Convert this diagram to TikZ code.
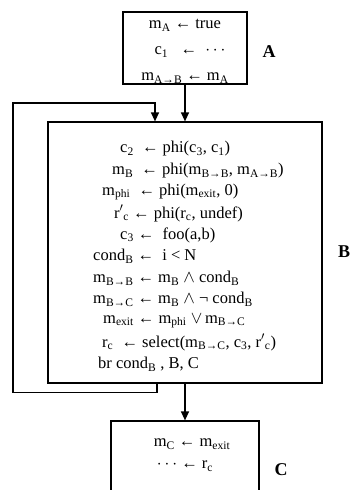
\documentclass[tikz,border=0pt]{standalone}
\usepackage{fontspec}
\setmainfont{Liberation Serif}
\usetikzlibrary{arrows.meta}
\newcommand\sbx[1]{\textsubscript{#1}}
\begin{document}
\begin{tikzpicture}[x=1pt,y=-1pt,
  font=\fontsize{16.5}{18}\selectfont,
  box/.style={draw,line width=1.2pt,inner sep=0pt},
  ln/.style={anchor=west,inner sep=0pt},
  lc/.style={anchor=center,inner sep=0pt,text depth=2pt},
  conn/.style={line width=1.2pt,-{Triangle[length=9pt,width=8pt]}},
  lbl/.style={font=\fontsize{18}{20}\selectfont\bfseries,inner sep=0pt}]
\useasboundingbox (0,0) rectangle (353,490);
% blocks
\node[box,minimum width=124pt,minimum height=72pt] (A) at (185,48) {};
\node[box,minimum width=274pt,minimum height=261pt] (B) at (185,252.5) {};
\node[box,minimum width=148pt,minimum height=80pt] (C) at (185,461) {};
% labels
\node[lbl] (LA) at (269,52) {A};
\node[lbl] (LB) at (344,252) {B};
\node[lbl] (LC) at (281,470) {C};
% block A
\node[lc] (a1) at (185,25) {m\sbx{A} ← true};
\node[lc] (a2) at (190,52) {c\sbx{1} ~ ← ~$\cdots$};
\node[lc] (a3) at (185,78) {m\sbx{A→B} ← m\sbx{A}};
% block B
\node[ln] (b1) at (120,149) {c\sbx{2} ~← phi(c\sbx{3}, c\sbx{1})};
\node[ln] (b2) at (112,170.5) {m\sbx{B} ~← phi(m\sbx{B→B}, m\sbx{A→B})};
\node[ln] (b3) at (102,192) {m\sbx{phi} ~← phi(m\sbx{exit}, 0)};
\node[ln] (b4) at (114,213.5) {r$'$\sbx{c} ← phi(r\sbx{c}, undef)};
\node[ln] (b5) at (120,235) {c\sbx{3} ← ~foo(a,b)};
\node[ln] (b6) at (93,256.5) {cond\sbx{B} ← ~i < N};
\node[ln] (b7) at (93,278) {m\sbx{B→B} ← m\sbx{B} $\wedge$ cond\sbx{B}};
\node[ln] (b8) at (93,299.5) {m\sbx{B→C} ← m\sbx{B} $\wedge$ ¬ cond\sbx{B}};
\node[ln] (b9) at (103,321) {m\sbx{exit} ← m\sbx{phi} $\vee$\,m\sbx{B→C}};
\node[ln] (b10) at (102,342.5) {r\sbx{c} ~← select(m\sbx{B→C}, c\sbx{3}, r$'$\sbx{c})};
\node[ln] (b11) at (98,364) {br cond\sbx{B} , B, C};
% block C
\node[lc] (c1) at (192,444) {m\sbx{C} ← m\sbx{exit}};
\node[lc] (c2) at (185,466) {$\cdots$ ← r\sbx{c}};
% connectors
\draw[conn] (A.south) -- (B.north);
\draw[conn] (B.south) -- (C.north);
\draw[conn] ([xshift=-28pt]B.south) -- ++(0,9) -| (13,103) -| ([xshift=-30pt]B.north);
\end{tikzpicture}
\end{document}
